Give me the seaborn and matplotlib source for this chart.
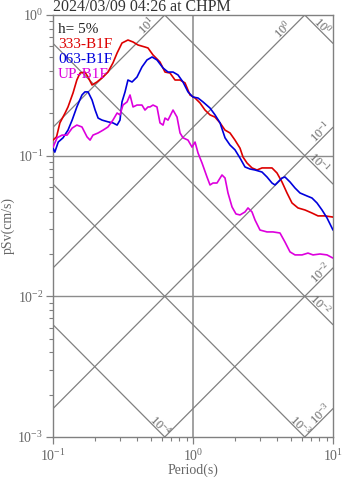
import numpy as np
import pandas as pd
import matplotlib
matplotlib.use("Agg")
import matplotlib.pyplot as plt
from matplotlib.ticker import LogLocator, FixedLocator, NullFormatter
import seaborn as sns

# ---------------- data ----------------
title = "2024/03/09 04:26 at CHPM"
damping_label = "h= 5%"
series_names = ["333-B1F", "063-B1F", "UP-B1F"]
series_colors = ["#dd0000", "#0000dd", "#dd00dd"]

t_333 = [0.100, 0.106, 0.112, 0.122, 0.128, 0.139, 0.148, 0.156, 0.169, 0.178, 0.190,
         0.206, 0.224, 0.247, 0.268, 0.287, 0.311, 0.343, 0.373, 0.405, 0.454, 0.477,
         0.518, 0.581, 0.631, 0.685, 0.744, 0.808, 0.877, 0.952, 1.034, 1.122, 1.218,
         1.323, 1.436, 1.560, 1.693, 1.838, 1.995, 2.167, 2.276, 2.430, 2.639, 2.865,
         3.111, 3.378, 3.667, 3.981, 4.322, 4.693, 5.095, 5.623, 6.310, 7.079, 7.816,
         8.767, 10.0]
sv_333 = [0.129, 0.136, 0.171, 0.201, 0.222, 0.279, 0.345, 0.387, 0.393, 0.362, 0.318,
          0.334, 0.357, 0.393, 0.456, 0.537, 0.632, 0.664, 0.643, 0.612, 0.592, 0.583,
          0.520, 0.463, 0.393, 0.387, 0.345, 0.345, 0.329, 0.270, 0.257, 0.237, 0.211,
          0.195, 0.188, 0.171, 0.152, 0.145, 0.129, 0.113, 0.0978, 0.0887, 0.0818, 0.0791,
          0.0818, 0.0818, 0.0818, 0.0753, 0.0650, 0.0543, 0.0461, 0.0425, 0.0411, 0.0391,
          0.0373, 0.0373, 0.0366]

t_063 = [0.100, 0.103, 0.109, 0.118, 0.128, 0.137, 0.148, 0.161, 0.169, 0.178, 0.190,
         0.200, 0.210, 0.224, 0.247, 0.268, 0.287, 0.301, 0.311, 0.327, 0.343, 0.367,
         0.398, 0.432, 0.469, 0.510, 0.553, 0.611, 0.663, 0.720, 0.781, 0.848, 0.921,
         1.000, 1.086, 1.179, 1.323, 1.436, 1.560, 1.693, 1.838, 1.995, 2.167, 2.352,
         2.553, 2.773, 3.111, 3.378, 3.667, 3.852, 4.047, 4.322, 4.541, 4.931, 5.354,
         5.810, 6.520, 7.079, 7.686, 8.347, 9.061, 10.0]
sv_063 = [0.113, 0.106, 0.125, 0.134, 0.152, 0.179, 0.222, 0.270, 0.284, 0.284, 0.249,
          0.211, 0.185, 0.179, 0.174, 0.171, 0.165, 0.179, 0.241, 0.284, 0.345, 0.334,
          0.362, 0.427, 0.479, 0.503, 0.479, 0.420, 0.393, 0.393, 0.375, 0.334, 0.284,
          0.261, 0.257, 0.241, 0.218, 0.195, 0.171, 0.134, 0.119, 0.110, 0.0962, 0.0831,
          0.0804, 0.0791, 0.0765, 0.0705, 0.0639, 0.0619, 0.0650, 0.0694, 0.0705, 0.0650,
          0.0589, 0.0543, 0.0517, 0.0500, 0.0461, 0.0411, 0.0361, 0.0296]

t_up = [0.100, 0.107, 0.116, 0.126, 0.137, 0.148, 0.161, 0.175, 0.184, 0.193, 0.210,
        0.228, 0.247, 0.268, 0.287, 0.301, 0.316, 0.338, 0.355, 0.373, 0.398, 0.432,
        0.454, 0.477, 0.493, 0.518, 0.553, 0.581, 0.611, 0.631, 0.663, 0.720, 0.769,
        0.808, 0.848, 0.921, 0.984, 1.034, 1.086, 1.160, 1.259, 1.323, 1.389, 1.484,
        1.611, 1.693, 1.778, 1.900, 2.028, 2.167, 2.352, 2.471, 2.639, 2.773, 3.010,
        3.378, 3.727, 4.182, 4.541, 4.931, 5.354, 6.005, 6.627, 7.197, 8.073, 9.061,
        10.0]
sv_up = [0.115, 0.134, 0.140, 0.140, 0.157, 0.165, 0.160, 0.136, 0.129, 0.140, 0.145,
         0.152, 0.160, 0.179, 0.201, 0.195, 0.229, 0.241, 0.270, 0.222, 0.229, 0.229,
         0.211, 0.222, 0.222, 0.229, 0.222, 0.171, 0.165, 0.185, 0.179, 0.211, 0.188,
         0.145, 0.134, 0.129, 0.115, 0.125, 0.1045, 0.0887, 0.0705, 0.0619, 0.0639, 0.0639,
         0.0729, 0.0694, 0.0543, 0.0432, 0.0385, 0.0379, 0.0398, 0.0425, 0.0398, 0.0349,
         0.0296, 0.0287, 0.0287, 0.0282, 0.0243, 0.0207, 0.0197, 0.0197, 0.0203, 0.0197,
         0.0200, 0.0197, 0.0187]

# tripartite reference lines
sa_values = [1e-3, 1e-2, 1e-1, 1e0, 1e1]       # pseudo-acceleration (cm/s^2)
sa_labels = [r"$10^{-3}$", r"$10^{-2}$", r"$10^{-1}$", r"$10^{0}$", r"$10^{1}$"]
sa_label_t = [8.7, 8.7, 8.7, 4.65, 0.497]
sd_values = [1e-4, 1e-3, 1e-2, 1e-1, 1e0]       # displacement (cm)
sd_labels = [r"$10^{-4}$", r"$10^{-3}$", r"$10^{-2}$", r"$10^{-1}$", r"$10^{0}$"]
sd_label_t = [0.549, 5.49, 7.6, 7.5, 7.94]

x_ticks = [0.1, 1, 10]
x_ticklabels = [r"$10^{-1}$", r"$10^{0}$", r"$10^{1}$"]
y_ticks = [1e-3, 1e-2, 1e-1, 1]
y_ticklabels = [r"$10^{-3}$", r"$10^{-2}$", r"$10^{-1}$", r"$10^{0}$"]

# ---------------- style ----------------
sns.set_style("white")
plt.rcParams["font.family"] = ["Liberation Serif", "DejaVu Serif"]
plt.rcParams["mathtext.fontset"] = "custom"
plt.rcParams["mathtext.rm"] = "Liberation Serif"
plt.rcParams["mathtext.it"] = "Liberation Serif"
plt.rcParams["mathtext.bf"] = "Liberation Serif"

GRAY = "#808080"
TXT = "#666666"

df = pd.concat([
    pd.DataFrame({"T": t_333, "Sv": sv_333, "comp": series_names[0]}),
    pd.DataFrame({"T": t_063, "Sv": sv_063, "comp": series_names[1]}),
    pd.DataFrame({"T": t_up, "Sv": sv_up, "comp": series_names[2]}),
], ignore_index=True)

fig = plt.figure(figsize=(3.47, 4.78), dpi=100)
ax = fig.add_axes([53 / 347, 41 / 478, 280 / 347, 422 / 478])
ax.set_xscale("log")
ax.set_yscale("log")
ax.set_xlim(0.1, 10)
ax.set_ylim(1e-3, 1)

# grid lines at decades
for xv in [1]:
    ax.axvline(xv, color="#9a9a9a", lw=1.3, zorder=1)
for yv in [1e-2, 1e-1]:
    ax.axhline(yv, color="#8c8c8c", lw=1.0, zorder=1)

# tripartite lines
tt = np.logspace(-1, 1, 200)
for sa, lab, tl in zip(sa_values, sa_labels, sa_label_t):
    ax.plot(tt, sa * tt / (2 * np.pi), color=GRAY, lw=0.9, zorder=1)
    ax.annotate(lab, xy=(tl, sa * tl / (2 * np.pi)), xytext=(-3.5, 3.5),
                textcoords="offset pixels", rotation=45, rotation_mode="anchor",
                ha="center", va="center", fontsize=9, color=TXT, zorder=2)
for sd, lab, tl in zip(sd_values, sd_labels, sd_label_t):
    ax.plot(tt, 2 * np.pi * sd / tt, color=GRAY, lw=0.9, zorder=1)
    ax.annotate(lab, xy=(tl, 2 * np.pi * sd / tl), xytext=(3.5, 3.5),
                textcoords="offset pixels", rotation=-45, rotation_mode="anchor",
                ha="center", va="center", fontsize=9, color=TXT, zorder=2)

sns.lineplot(data=df, x="T", y="Sv", hue="comp", palette=series_colors,
             hue_order=series_names, sort=False, estimator=None, lw=1.2,
             legend=False, ax=ax, zorder=3)

ax.set_xlim(0.1, 10)
ax.set_ylim(1e-3, 1)

# ticks
ax.xaxis.set_major_locator(FixedLocator(x_ticks))
ax.set_xticklabels(x_ticklabels)
ax.yaxis.set_major_locator(FixedLocator(y_ticks))
ax.set_yticklabels(y_ticklabels)
ax.xaxis.set_minor_locator(LogLocator(base=10, subs=np.arange(2, 10)))
ax.yaxis.set_minor_locator(LogLocator(base=10, subs=np.arange(2, 10)))
ax.xaxis.set_minor_formatter(NullFormatter())
ax.yaxis.set_minor_formatter(NullFormatter())
ax.tick_params(which="major", direction="out", length=5, width=0.9, color=GRAY,
               labelsize=10, labelcolor=TXT, pad=2, bottom=True, left=True)
ax.tick_params(which="minor", direction="out", length=3, width=0.8, color=GRAY,
               bottom=True, left=True)
ax.tick_params(axis="x", which="major", pad=3)

for s in ax.spines.values():
    s.set_color(GRAY)
    s.set_linewidth(1.0)

ax.set_xlabel("Period(s)", fontsize=10, color=TXT)
ax.xaxis.set_label_coords(0.5, -0.062)
ax.set_ylabel("pSv(cm/s)", fontsize=10, color=TXT)
ax.yaxis.set_label_coords(-0.137, 0.5)
ax.set_title(title, loc="left", fontsize=11.5, color="#333333", pad=2)

# text legend
ax.text(0.018, 0.957, damping_label, transform=ax.transAxes, fontsize=11,
        color="#222222", va="baseline", ha="left")
for i, (nm, c) in enumerate(zip(series_names, series_colors)):
    ax.text(0.018, 0.922 - i * 0.0355, nm, transform=ax.transAxes, fontsize=11,
            color=c, va="baseline", ha="left", zorder=4)

fig.savefig("out.png", dpi=100)
